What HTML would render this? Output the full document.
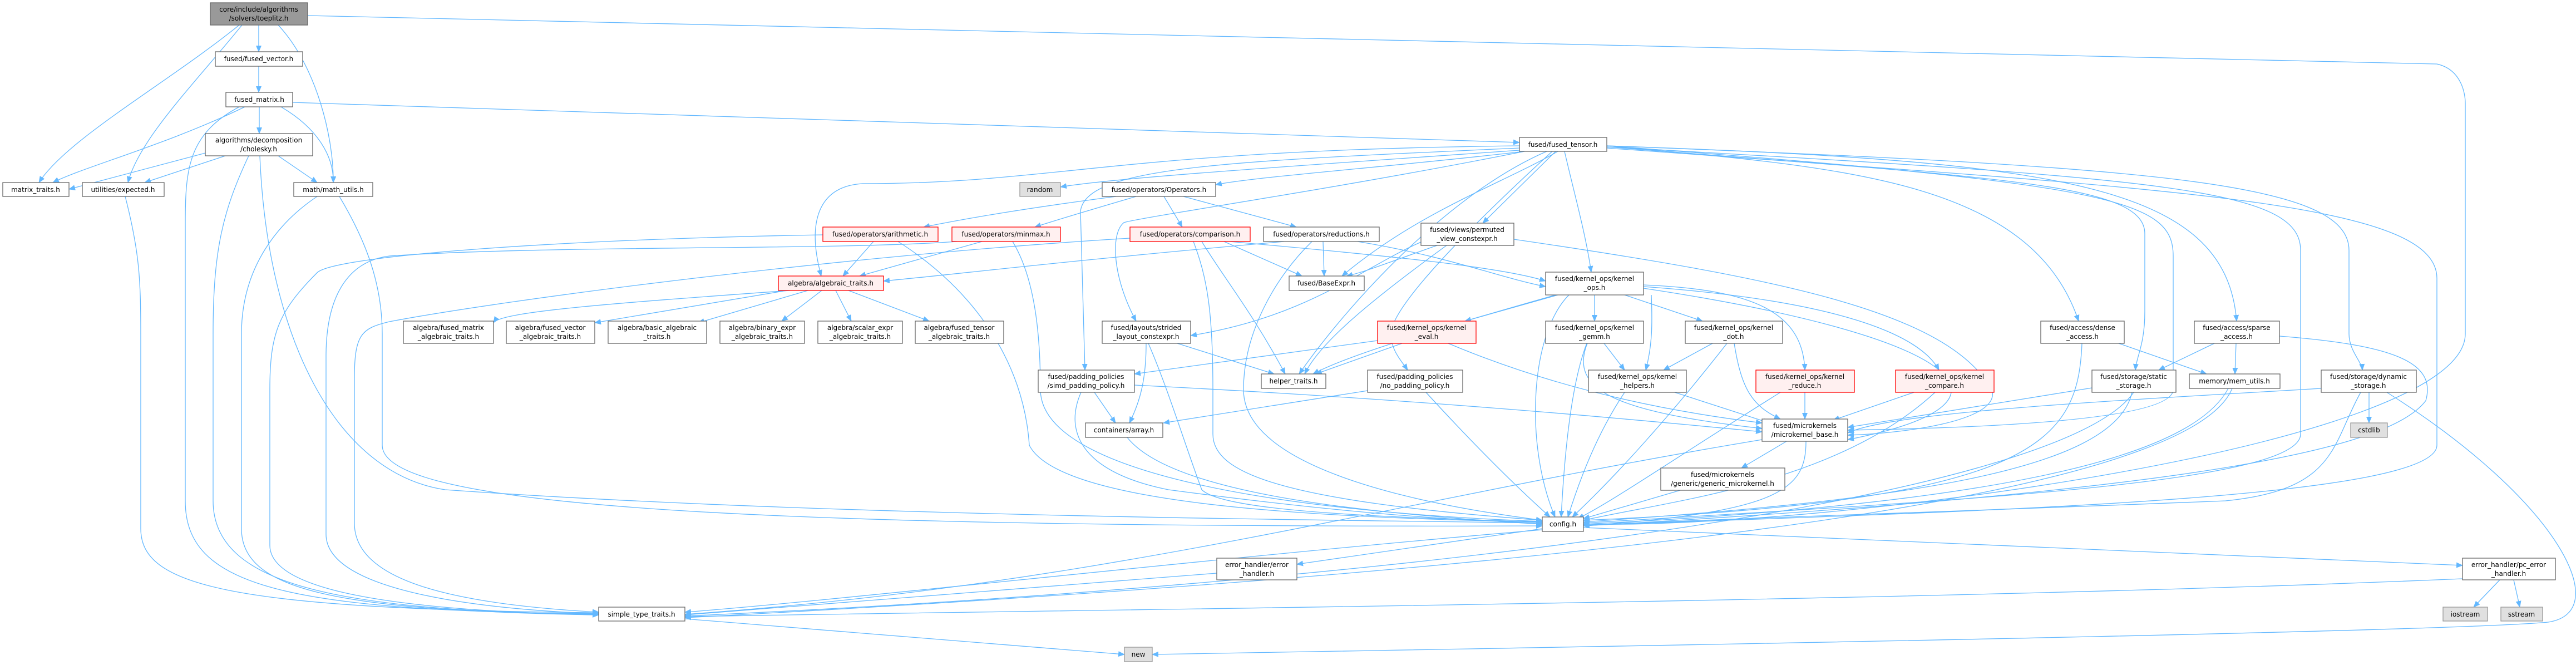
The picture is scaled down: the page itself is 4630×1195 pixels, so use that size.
<!DOCTYPE html>
<html><head><meta charset="utf-8"><style>
html,body{margin:0;padding:0;background:#fff}
svg{display:block}
.e{fill:none;stroke:#63b8ff;stroke-width:1.3}
.n{fill:#fff;stroke:#666;stroke-width:1.3}
.r{fill:#fff0f0;stroke:#ff0000;stroke-width:1.3}
.g{fill:#e0e0e0;stroke:#999;stroke-width:1.3}
.t{fill:#999;stroke:#666;stroke-width:1.3}
text{font-family:"DejaVu Sans","Liberation Sans",sans-serif;font-size:12px;fill:#000;text-anchor:middle}
</style></head><body>
<svg width="4630" height="1195" viewBox="0 0 4630 1195" xmlns="http://www.w3.org/2000/svg">
<defs><marker id="a" markerUnits="userSpaceOnUse" markerWidth="12" markerHeight="10" refX="11" refY="5" orient="auto"><path d="M0,0 L12,5 L0,10 z" fill="#63b8ff"/></marker></defs>
<g class="e" marker-end="url(#a)">
<path d="M465 45 L465 93"/>
<path d="M430 45 C300 150,120 250,70 328"/>
<path d="M435 45 C350 150,250 250,230 328"/>
<path d="M500 45 C570 120,600 250,599 328"/>
<path d="M553 28 L4380 115 C4425 125,4431 170,4431 185 L4431 600 C4431 800,3300 950,2846 942"/>
<path d="M465 119 L465 166"/>
<path d="M526 184 L2731 256"/>
<path d="M466 192 L466 240"/>
<path d="M440 192 C300 260,150 300,95 328"/>
<path d="M505 192 C570 230,600 280,599 328"/>
<path d="M430 192 C340 240,333 300,333 400 L333 900 C333 1050,500 1098,1076 1103"/>
<path d="M369 275 L124 340"/>
<path d="M405 280 L260 328"/>
<path d="M500 280 L570 328"/>
<path d="M447 280 C400 380,383 450,383 600 L383 900 C383 1050,600 1098,1076 1104"/>
<path d="M467 280 C480 600,600 850,800 880 C1500 930,2500 935,2772 940"/>
<path d="M225 353 C250 450,253 500,253 600 L253 950 C253 1050,400 1095,1076 1101"/>
<path d="M570 353 C500 400,434 480,434 600 L434 950 C434 1060,600 1097,1076 1105"/>
<path d="M610 353 C650 420,687 500,687 600 L687 800 C687 900,1200 950,2772 945"/>
<path d="M2731 270 C2300 300,2000 320,1906 336"/>
<path d="M2740 272 C2500 300,2250 318,2185 332"/>
<path d="M2731 262 C2000 270,1900 330,1550 330 C1470 335,1450 400,1476 496"/>
<path d="M2731 266 C2200 290,1950 300,1942 380 L1950 665"/>
<path d="M2740 272 C2400 340,2050 390,2020 400 C1995 420,2000 500,2042 577"/>
<path d="M2796 272 L2665 401"/>
<path d="M2812 272 C2830 350,2850 420,2860 489"/>
<path d="M2780 272 C2600 350,2420 550,2335 672"/>
<path d="M2790 272 C2650 400,2500 550,2500 600 C2500 630,2520 650,2530 665"/>
<path d="M2800 272 C2700 330,2550 380,2412 496"/>
<path d="M2888 262 C3300 300,3650 320,3736 577"/>
<path d="M2888 262 C3700 290,4000 330,4020 577"/>
<path d="M2888 264 C3600 320,3855 330,3855 420 L3855 560 C3855 620,3840 640,3838 665"/>
<path d="M2888 262 C3900 300,4222 330,4222 450 L4222 600 C4222 630,4245 650,4246 665"/>
<path d="M2888 262 C3800 330,3906 360,3906 460 L3906 700 C3906 760,3500 770,3321 773"/>
<path d="M2888 264 C3900 320,4135 340,4135 450 L4135 780 C4135 870,3500 900,2846 940"/>
<path d="M2888 266 C3900 340,4380 360,4380 500 L4380 800 C4380 900,3500 920,2846 944"/>
<path d="M2006 353 C1800 380,1700 400,1660 408"/>
<path d="M2042 353 C1950 380,1900 395,1860 408"/>
<path d="M2092 353 L2125 408"/>
<path d="M2127 353 L2330 408"/>
<path d="M1570 434 L1515 496"/>
<path d="M1614 434 C1750 520,1840 650,1850 800 C1900 900,2300 930,2772 938"/>
<path d="M1479 422 C1000 430,600 460,570 490 C500 560,485 600,485 700 L485 980 C485 1060,700 1097,1076 1105"/>
<path d="M1765 434 L1545 496"/>
<path d="M1720 434 C1500 450,1000 440,700 460 C620 470,586 540,586 640 L586 960 C586 1050,800 1092,1076 1103"/>
<path d="M1820 434 C1860 500,1870 600,1870 700 C1870 850,2300 920,2772 937"/>
<path d="M2308 434 C1900 470,1700 495,1588 505"/>
<path d="M2031 428 C1500 460,900 540,700 578 C650 590,637 600,637 680 L637 940 C637 1040,800 1085,1076 1100"/>
<path d="M2200 434 L2340 496"/>
<path d="M2160 434 C2200 500,2250 560,2310 672"/>
<path d="M2145 434 C2170 500,2180 560,2180 700 L2180 780 C2180 850,2300 900,2772 935"/>
<path d="M2210 434 C2500 460,2700 480,2778 505"/>
<path d="M2378 434 L2380 496"/>
<path d="M2440 434 C2600 460,2700 500,2778 515"/>
<path d="M2358 434 C2290 500,2235 600,2235 700 C2235 830,2500 900,2772 935"/>
<path d="M2583 441 C2500 470,2450 490,2420 496"/>
<path d="M2600 441 C2450 550,2370 620,2345 672"/>
<path d="M2554 435 C2450 480,2350 570,2140 603"/>
<path d="M2721 430 C3200 500,3500 560,3580 700 C3600 760,3400 780,3321 782"/>
<path d="M1420 522 C1100 545,900 560,887 580"/>
<path d="M1420 521 L1069 580"/>
<path d="M1452 522 L1255 580"/>
<path d="M1477 522 L1405 577"/>
<path d="M1502 522 L1530 577"/>
<path d="M1525 522 L1670 577"/>
<path d="M2116 617 L2290 672"/>
<path d="M2060 617 C2060 680,2050 720,2030 760"/>
<path d="M2064 617 C2100 700,2130 800,2160 880 C2200 920,2500 930,2772 938"/>
<path d="M2800 530 L2633 577"/>
<path d="M2866 530 L2866 577"/>
<path d="M2920 530 L3060 577"/>
<path d="M2968 530 C2970 580,2970 620,2958 665"/>
<path d="M2954 512 C3150 520,3240 560,3244 665"/>
<path d="M2954 515 C3300 540,3450 600,3485 665"/>
<path d="M2954 518 C3500 600,3680 720,3321 790"/>
<path d="M2820 530 C2750 600,2740 800,2795 929"/>
<path d="M2796 530 C2550 600,2420 640,2360 672"/>
<path d="M2476 612 L2039 672"/>
<path d="M2520 617 L2365 672"/>
<path d="M2603 617 C2800 700,3000 740,3167 760"/>
<path d="M2883 617 L2920 665"/>
<path d="M2853 617 C2820 700,2900 740,3167 770"/>
<path d="M2852 617 C2820 700,2810 850,2806 929"/>
<path d="M3078 617 L2990 665"/>
<path d="M3117 617 C3130 700,3150 730,3200 753"/>
<path d="M3104 617 C3000 750,2900 860,2826 929"/>
<path d="M3010 705 L3180 760"/>
<path d="M2920 705 C2870 780,2840 860,2818 929"/>
<path d="M3244 705 L3244 753"/>
<path d="M3200 705 C3000 830,2900 900,2836 932"/>
<path d="M3440 705 L3295 755"/>
<path d="M3478 705 C3300 870,3000 900,2846 935"/>
<path d="M1967 705 L2005 760"/>
<path d="M1943 705 C1910 780,1950 850,2100 880 C2400 920,2600 935,2772 940"/>
<path d="M2039 692 C2600 720,3000 760,3167 776"/>
<path d="M2458 702 L2091 760"/>
<path d="M2563 705 C2650 800,2720 870,2786 929"/>
<path d="M2026 786 C2100 880,2400 920,2772 942"/>
<path d="M3211 793 L3130 841"/>
<path d="M3246 793 C3246 880,3200 920,2846 945"/>
<path d="M3020 881 L2846 932"/>
<path d="M3808 617 L3966 672"/>
<path d="M3742 617 C3735 800,3650 900,2846 935"/>
<path d="M4019 617 L4017 672"/>
<path d="M3980 617 L3880 665"/>
<path d="M4097 604 C4300 620,4380 650,4360 720 C4300 800,4000 880,2846 945"/>
<path d="M3760 697 L3321 768"/>
<path d="M3832 705 C3800 850,3400 900,2846 938"/>
<path d="M4005 698 C3950 800,3700 900,2846 942"/>
<path d="M4012 698 C3950 850,3300 1000,1231 1110"/>
<path d="M4258 705 L4258 760"/>
<path d="M4172 698 C3800 720,3400 740,3321 778"/>
<path d="M4243 705 C4190 800,4200 880,4000 900 C3500 920,3000 935,2846 945"/>
<path d="M4290 705 C4600 900,4700 1100,4580 1118 C4400 1135,3000 1160,2071 1176"/>
<path d="M3167 790 C2500 900,2000 1050,1231 1104"/>
<path d="M3835 705 C3700 900,2500 1050,1231 1107"/>
<path d="M2772 950 L2331 1014"/>
<path d="M2846 948 L4426 1016"/>
<path d="M2772 952 C2200 1000,1500 1080,1231 1100"/>
<path d="M2187 1030 L1231 1105"/>
<path d="M4493 1042 L4446 1091"/>
<path d="M4518 1042 L4529 1091"/>
<path d="M4426 1040 C3500 1080,2000 1095,1231 1108"/>
<path d="M1231 1112 L2021 1176"/>
</g>
<g>
<rect class="t" x="378" y="5" width="175" height="40"/><text x="465" y="21">core/include/algorithms</text><text x="465" y="37">/solvers/toeplitz.h</text>
<rect class="n" x="387" y="93" width="157" height="26"/><text x="465" y="110">fused/fused_vector.h</text>
<rect class="n" x="406" y="166" width="120" height="26"/><text x="466" y="183">fused_matrix.h</text>
<rect class="n" x="369" y="240" width="193" height="40"/><text x="465" y="256">algorithms/decomposition</text><text x="465" y="272">/cholesky.h</text>
<rect class="n" x="5" y="328" width="119" height="25"/><text x="64" y="345">matrix_traits.h</text>
<rect class="n" x="148" y="328" width="147" height="25"/><text x="221" y="345">utilities/expected.h</text>
<rect class="n" x="528" y="328" width="142" height="25"/><text x="599" y="345">math/math_utils.h</text>
<rect class="n" x="2731" y="247" width="157" height="25"/><text x="2809" y="264">fused/fused_tensor.h</text>
<rect class="g" x="1833" y="328" width="73" height="25"/><text x="1869" y="345">random</text>
<rect class="n" x="1981" y="328" width="204" height="25"/><text x="2083" y="345">fused/operators/Operators.h</text>
<rect class="r" x="1479" y="408" width="207" height="26"/><text x="1582" y="425">fused/operators/arithmetic.h</text>
<rect class="r" x="1711" y="408" width="195" height="26"/><text x="1808" y="425">fused/operators/minmax.h</text>
<rect class="r" x="2031" y="408" width="216" height="26"/><text x="2139" y="425">fused/operators/comparison.h</text>
<rect class="n" x="2271" y="408" width="208" height="26"/><text x="2375" y="425">fused/operators/reductions.h</text>
<rect class="n" x="2554" y="401" width="167" height="40"/><text x="2637" y="417">fused/views/permuted</text><text x="2637" y="433">_view_constexpr.h</text>
<rect class="r" x="1399" y="496" width="189" height="26"/><text x="1493" y="513">algebra/algebraic_traits.h</text>
<rect class="n" x="2317" y="496" width="135" height="26"/><text x="2384" y="513">fused/BaseExpr.h</text>
<rect class="n" x="2778" y="489" width="176" height="41"/><text x="2866" y="505">fused/kernel_ops/kernel</text><text x="2866" y="521">_ops.h</text>
<rect class="n" x="725" y="577" width="162" height="40"/><text x="806" y="593">algebra/fused_matrix</text><text x="806" y="609">_algebraic_traits.h</text>
<rect class="n" x="910" y="577" width="159" height="40"/><text x="989" y="593">algebra/fused_vector</text><text x="989" y="609">_algebraic_traits.h</text>
<rect class="n" x="1093" y="577" width="177" height="40"/><text x="1181" y="593">algebra/basic_algebraic</text><text x="1181" y="609">_traits.h</text>
<rect class="n" x="1294" y="577" width="152" height="40"/><text x="1370" y="593">algebra/binary_expr</text><text x="1370" y="609">_algebraic_traits.h</text>
<rect class="n" x="1470" y="577" width="152" height="40"/><text x="1546" y="593">algebra/scalar_expr</text><text x="1546" y="609">_algebraic_traits.h</text>
<rect class="n" x="1645" y="577" width="159" height="40"/><text x="1724" y="593">algebra/fused_tensor</text><text x="1724" y="609">_algebraic_traits.h</text>
<rect class="n" x="1981" y="577" width="159" height="40"/><text x="2060" y="593">fused/layouts/strided</text><text x="2060" y="609">_layout_constexpr.h</text>
<rect class="r" x="2476" y="577" width="177" height="40"/><text x="2564" y="593">fused/kernel_ops/kernel</text><text x="2564" y="609">_eval.h</text>
<rect class="n" x="2778" y="577" width="176" height="40"/><text x="2866" y="593">fused/kernel_ops/kernel</text><text x="2866" y="609">_gemm.h</text>
<rect class="n" x="3029" y="577" width="175" height="40"/><text x="3116" y="593">fused/kernel_ops/kernel</text><text x="3116" y="609">_dot.h</text>
<rect class="n" x="3668" y="577" width="150" height="40"/><text x="3743" y="593">fused/access/dense</text><text x="3743" y="609">_access.h</text>
<rect class="n" x="3944" y="577" width="153" height="40"/><text x="4020" y="593">fused/access/sparse</text><text x="4020" y="609">_access.h</text>
<rect class="n" x="1866" y="665" width="173" height="40"/><text x="1952" y="681">fused/padding_policies</text><text x="1952" y="697">/simd_padding_policy.h</text>
<rect class="n" x="2267" y="672" width="116" height="26"/><text x="2325" y="689">helper_traits.h</text>
<rect class="n" x="2458" y="665" width="171" height="40"/><text x="2543" y="681">fused/padding_policies</text><text x="2543" y="697">/no_padding_policy.h</text>
<rect class="n" x="2855" y="665" width="176" height="40"/><text x="2943" y="681">fused/kernel_ops/kernel</text><text x="2943" y="697">_helpers.h</text>
<rect class="r" x="3156" y="665" width="177" height="40"/><text x="3244" y="681">fused/kernel_ops/kernel</text><text x="3244" y="697">_reduce.h</text>
<rect class="r" x="3407" y="665" width="177" height="40"/><text x="3495" y="681">fused/kernel_ops/kernel</text><text x="3495" y="697">_compare.h</text>
<rect class="n" x="3760" y="665" width="151" height="40"/><text x="3835" y="681">fused/storage/static</text><text x="3835" y="697">_storage.h</text>
<rect class="n" x="3935" y="672" width="163" height="26"/><text x="4016" y="689">memory/mem_utils.h</text>
<rect class="n" x="4172" y="665" width="171" height="40"/><text x="4257" y="681">fused/storage/dynamic</text><text x="4257" y="697">_storage.h</text>
<rect class="n" x="1951" y="760" width="139" height="26"/><text x="2020" y="777">containers/array.h</text>
<rect class="n" x="3167" y="753" width="154" height="40"/><text x="3244" y="769">fused/microkernels</text><text x="3244" y="785">/microkernel_base.h</text>
<rect class="g" x="4225" y="760" width="66" height="26"/><text x="4258" y="777">cstdlib</text>
<rect class="n" x="2985" y="841" width="223" height="40"/><text x="3096" y="857">fused/microkernels</text><text x="3096" y="873">/generic/generic_microkernel.h</text>
<rect class="n" x="2772" y="929" width="74" height="26"/><text x="2809" y="946">config.h</text>
<rect class="n" x="2187" y="1003" width="144" height="39"/><text x="2259" y="1019">error_handler/error</text><text x="2259" y="1035">_handler.h</text>
<rect class="n" x="4426" y="1003" width="167" height="39"/><text x="4509" y="1019">error_handler/pc_error</text><text x="4509" y="1035">_handler.h</text>
<rect class="n" x="1076" y="1091" width="155" height="25"/><text x="1153" y="1108">simple_type_traits.h</text>
<rect class="g" x="4391" y="1091" width="80" height="25"/><text x="4431" y="1108">iostream</text>
<rect class="g" x="4495" y="1091" width="75" height="25"/><text x="4532" y="1108">sstream</text>
<rect class="g" x="2021" y="1163" width="50" height="26"/><text x="2046" y="1180">new</text>
</g>
</svg>
</body></html>
